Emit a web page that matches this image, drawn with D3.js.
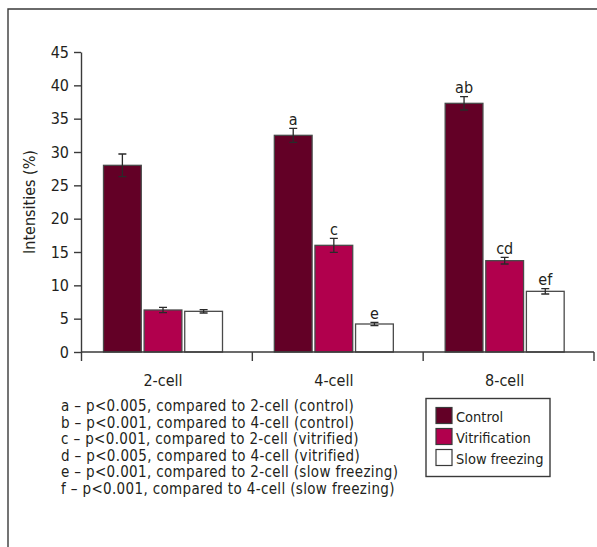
<!DOCTYPE html>
<html>
<head>
<meta charset="utf-8">
<script src="https://cdn.jsdelivr.net/npm/d3@7"></script>
<style>
  html, body { margin: 0; padding: 0; background: #fff; }
  svg text {
    font-family: "Liberation Sans Narrow", "DejaVu Sans Condensed", "Roboto", sans-serif;
    fill: #231f20;
  }
  .axis path, .axis line { stroke: #3a3a3a; stroke-width: 1.4; }
  .axis text { font-size: 16px; }
</style>
</head>
<body>
<div id="chart"></div>
<script>
const categories = ["2-cell", "4-cell", "8-cell"];
const seriesNames = ["Control", "Vitrification", "Slow freezing"];

const controlValues = [28.0, 32.5, 37.3];
const controlErrors = [1.7, 1.05, 1.0];
const controlMarks = ["", "a", "ab"];

const vitrificationValues = [6.3, 16.0, 13.7];
const vitrificationErrors = [0.4, 1.05, 0.5];
const vitrificationMarks = ["", "c", "cd"];

const slowFreezingValues = [6.1, 4.2, 9.1];
const slowFreezingErrors = [0.25, 0.25, 0.4];
const slowFreezingMarks = ["", "e", "ef"];

const yTicks = [0, 5, 10, 15, 20, 25, 30, 35, 40, 45];
const yLabel = "Intensities (%)";

const footnotes = [
  "a \u2013 p<0.005, compared to 2-cell (control)",
  "b \u2013 p<0.001, compared to 4-cell (control)",
  "c \u2013 p<0.001, compared to 2-cell (vitrified)",
  "d \u2013 p<0.005, compared to 4-cell (vitrified)",
  "e \u2013 p<0.001, compared to 2-cell (slow freezing)",
  "f \u2013 p<0.001, compared to 4-cell (slow freezing)"
];

const colors = ["#630026", "#b1004d", "#ffffff"];

const series = seriesNames.map((name, i) => ({
  name,
  color: colors[i],
  values: [controlValues, vitrificationValues, slowFreezingValues][i],
  errors: [controlErrors, vitrificationErrors, slowFreezingErrors][i],
  marks: [controlMarks, vitrificationMarks, slowFreezingMarks][i]
}));

const width = 597;
const height = 547;

const svg = d3.select("#chart")
  .append("svg")
  .attr("width", width)
  .attr("height", height);

// frame (top and left only)
svg.append("path")
  .attr("d", "M8,547 L8,9 L597,9")
  .attr("fill", "none")
  .attr("stroke", "#3a3a3a")
  .attr("stroke-width", 1.4);

const y = d3.scaleLinear().domain([0, 45]).range([352, 52]);
const x0 = d3.scaleBand().domain(categories).range([81.5, 594]).padding(0);
const x1 = d3.scaleBand().domain(seriesNames).range([22, 141]).paddingInner(0.07);
const groupCenter = (22 + 141) / 2;

// y axis
svg.append("g")
  .attr("class", "axis")
  .attr("transform", "translate(81,0)")
  .call(d3.axisLeft(y).tickValues(yTicks).tickSize(7).tickSizeOuter(0).tickPadding(5));

svg.append("text")
  .attr("transform", "translate(35,202) rotate(-90)")
  .attr("text-anchor", "middle")
  .attr("font-size", 16)
  .text(yLabel);

// bars
const groups = svg.append("g")
  .selectAll("g")
  .data(series)
  .join("g");

groups.selectAll("rect")
  .data((s) => categories.map((c, i) => ({ c, v: s.values[i], s })))
  .join("rect")
  .attr("x", (d) => x0(d.c) + x1(d.s.name))
  .attr("y", (d) => y(d.v))
  .attr("width", x1.bandwidth())
  .attr("height", (d) => y(0) - y(d.v))
  .attr("fill", (d) => d.s.color)
  .attr("stroke", "#4a4a4a")
  .attr("stroke-width", 1.3);

// error bars
const errs = groups.selectAll("g.err")
  .data((s) => categories.map((c, i) => ({ c, v: s.values[i], e: s.errors[i], m: s.marks[i], s })))
  .join("g")
  .attr("class", "err")
  .attr("transform", (d) => `translate(${x0(d.c) + x1(d.s.name) + x1.bandwidth() / 2},0)`);

errs.append("path")
  .attr("d", (d) => {
    const t = y(d.v + d.e), b = y(d.v - d.e);
    return `M0,${t}V${b}M-4,${t}H4M-4,${b}H4`;
  })
  .attr("stroke", "#2a2a2a")
  .attr("stroke-width", 1.3)
  .attr("fill", "none");

errs.append("text")
  .attr("y", (d) => y(d.v + d.e) - 3.5)
  .attr("text-anchor", "middle")
  .attr("font-size", 16)
  .text((d) => d.m);

// x axis
const xAxis = svg.append("g").attr("class", "axis");
xAxis.append("line")
  .attr("x1", x0.range()[0]).attr("x2", x0.range()[1])
  .attr("y1", y(0)).attr("y2", y(0));
xAxis.selectAll("line.tick")
  .data([...categories.map((c) => x0(c)), x0.range()[1]])
  .join("line")
  .attr("class", "tick")
  .attr("x1", (d) => d).attr("x2", (d) => d)
  .attr("y1", y(0)).attr("y2", y(0) + 9);
xAxis.selectAll("text")
  .data(categories)
  .join("text")
  .attr("x", (d) => x0(d) + groupCenter)
  .attr("y", 386)
  .attr("text-anchor", "middle")
  .text((d) => d);

// footnotes
svg.append("g")
  .selectAll("text")
  .data(footnotes)
  .join("text")
  .attr("x", 61)
  .attr("y", (d, i) => 411 + i * 16.6)
  .attr("font-size", 15)
  .attr("letter-spacing", 0.35)
  .text((d) => d);

// legend
const legend = svg.append("g").attr("transform", "translate(426,398.5)");
legend.append("rect")
  .attr("width", 124)
  .attr("height", 78)
  .attr("fill", "#fff")
  .attr("stroke", "#3a3a3a")
  .attr("stroke-width", 1.4);
const items = legend.selectAll("g")
  .data(series)
  .join("g")
  .attr("transform", (d, i) => `translate(10,${9 + i * 21})`);
items.append("rect")
  .attr("width", 16)
  .attr("height", 16)
  .attr("fill", (d) => d.color)
  .attr("stroke", "#3a3a3a")
  .attr("stroke-width", 1.2);
items.append("text")
  .attr("x", 20)
  .attr("y", 14)
  .attr("font-size", 14.5)
  .text((d) => d.name);
</script>
</body>
</html>
